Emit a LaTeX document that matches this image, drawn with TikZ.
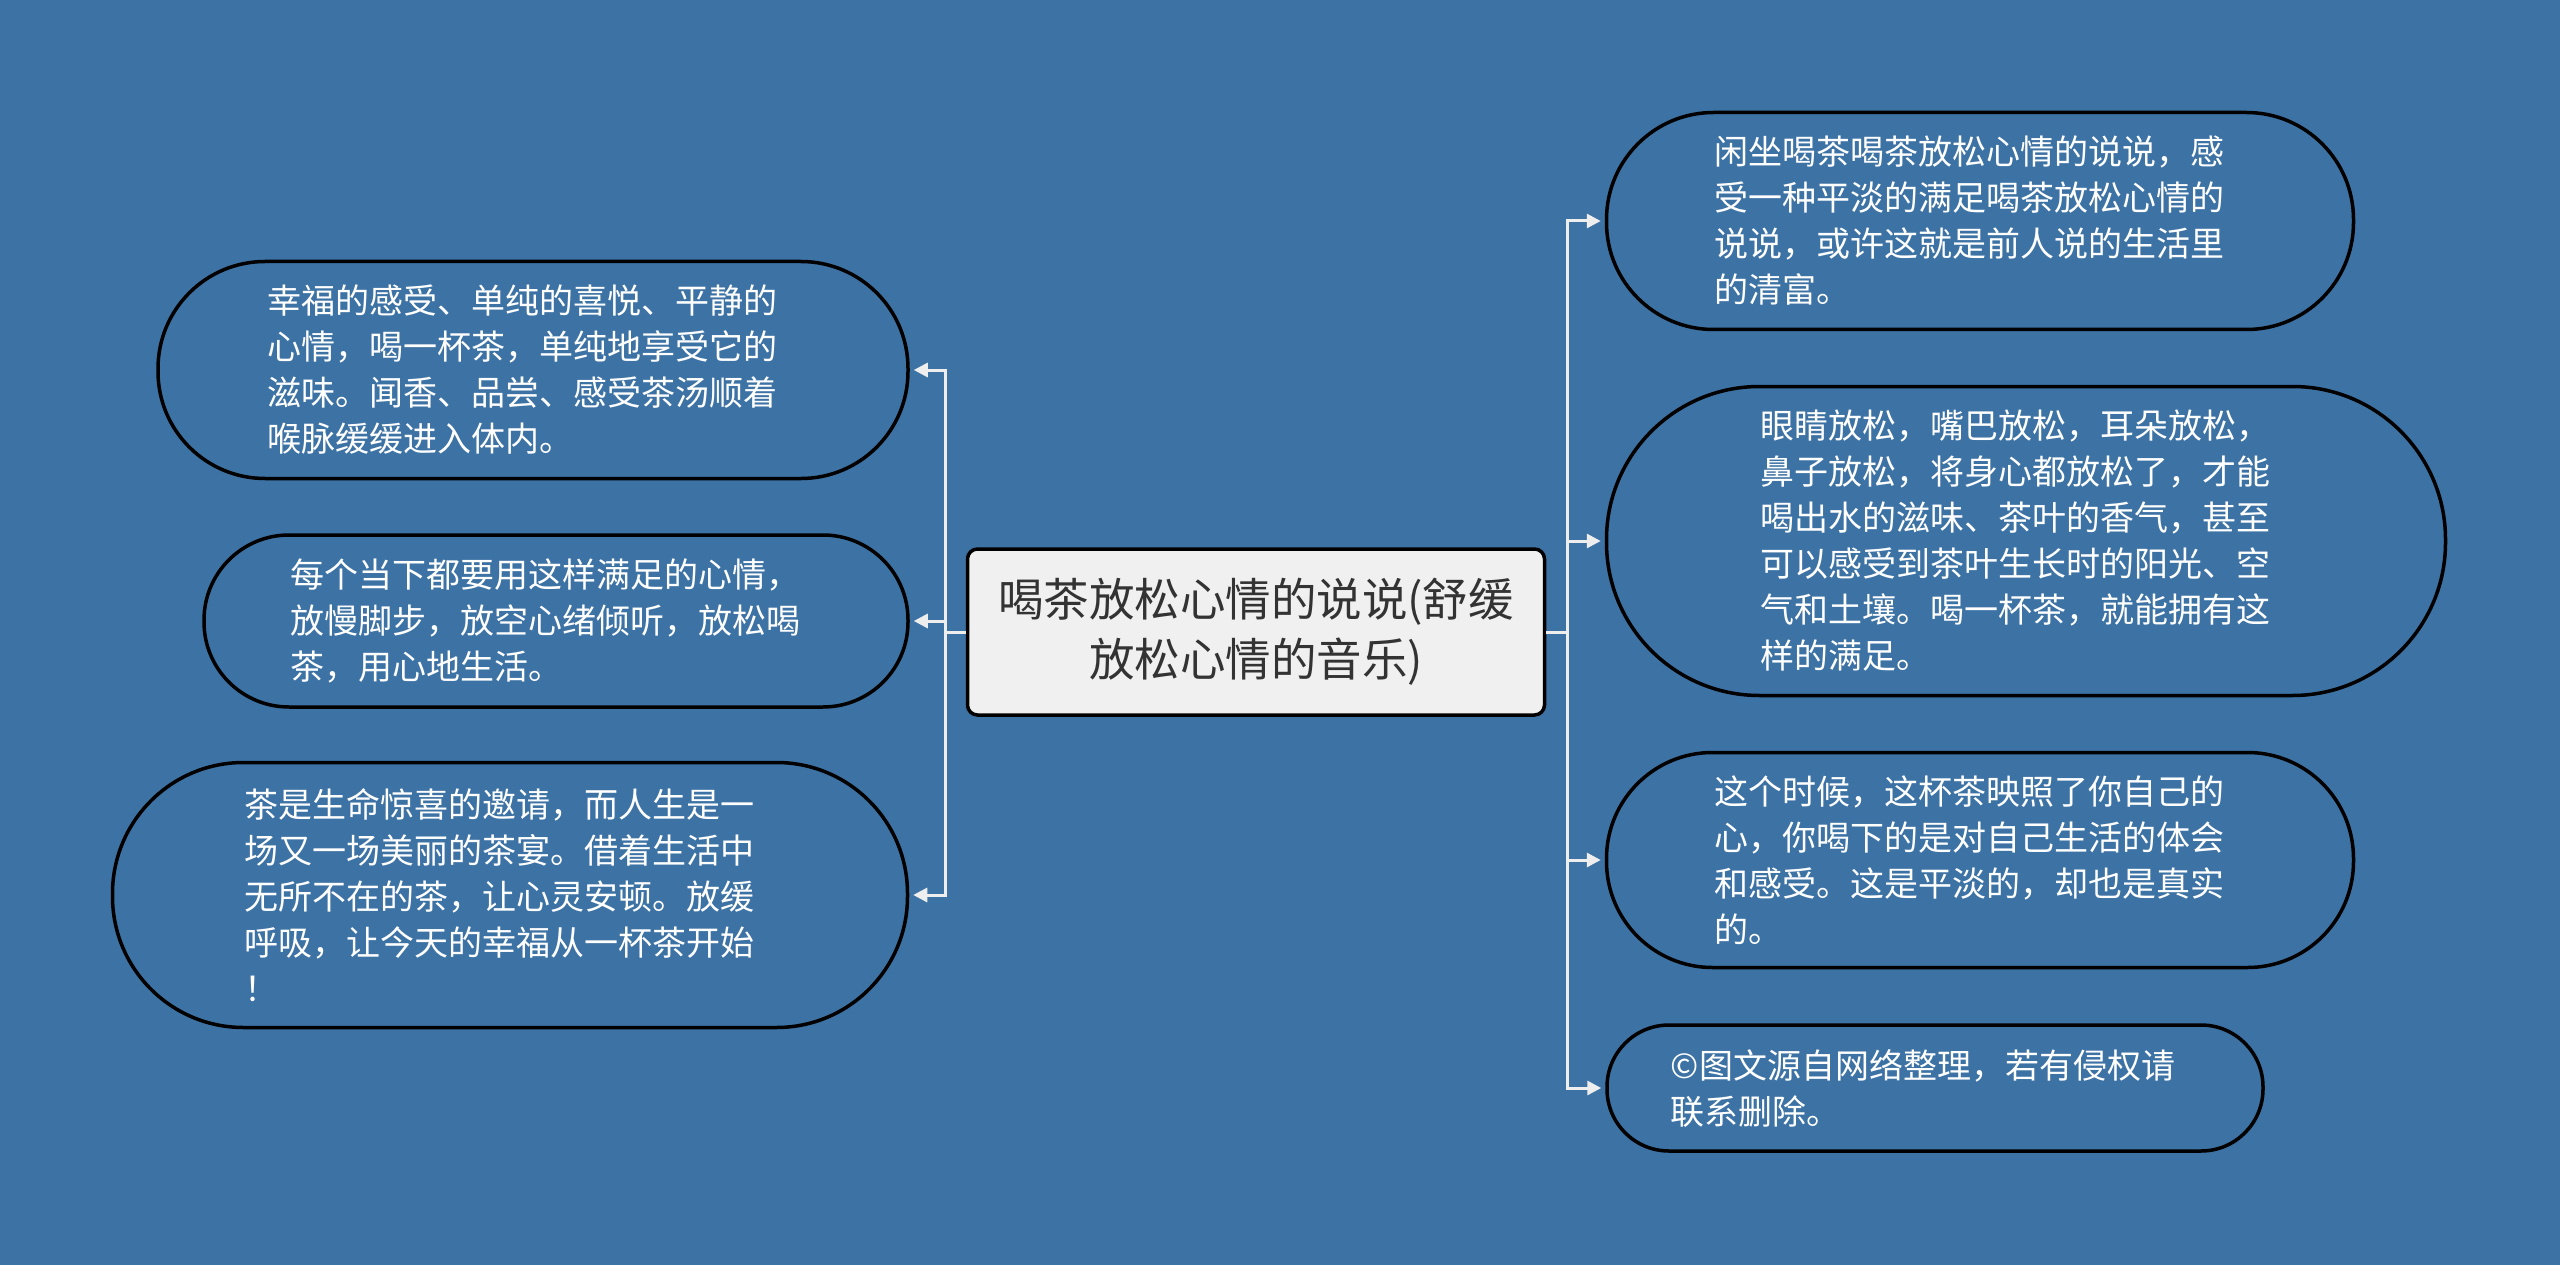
\documentclass[tikz,border=0pt]{standalone}
\usepackage{fontspec}
\setmainfont{Noto Sans CJK SC}
\usetikzlibrary{arrows.meta}
\definecolor{bg}{RGB}{61,114,164}
\definecolor{linkc}{RGB}{238,238,238}
\definecolor{ctext}{RGB}{51,51,51}
\definecolor{cfill}{RGB}{240,240,240}
\tikzset{
  pill/.style={draw=black, line width=3.5pt, fill=bg, inner sep=0pt},
  ptext/.style={text=white, align=left, font=\fontsize{34}{46}\selectfont, inner sep=0pt},
  hub/.style={draw=black, line width=3.5pt, fill=cfill, text=ctext, align=center,
    font=\fontsize{45.5}{60}\selectfont, rounded corners=10pt, inner sep=0pt,
    minimum width=577pt, minimum height=166pt},
  link/.style={draw=linkc, line width=3pt},
  arr/.style={link, -{Triangle[length=14pt,width=14pt]}, shorten >=4pt},
}
\begin{document}
\begin{tikzpicture}[x=1pt,y=-1pt]
\fill[bg] (0,0) rectangle (2560,1265);
\useasboundingbox (0,0) rectangle (2560,1265);

\node[hub] (c) at (1256,632) {喝茶放松心情的说说(舒缓\\放松心情的音乐)};

\node[pill, minimum width=750pt, minimum height=217pt, rounded corners=107pt] (l1) at (533,370) {};
\node[ptext] (l1t) at ([xshift=-11pt]l1.center)
  {幸福的感受、单纯的喜悦、平静的\\心情，喝一杯茶，单纯地享受它的\\滋味。闻香、品尝、感受茶汤顺着\\喉脉缓缓进入体内。};
\node[pill, minimum width=704pt, minimum height=172pt, rounded corners=85pt] (l2) at (556,621) {};
\node[ptext] (l2t) at ([xshift=-11pt]l2.center)
  {每个当下都要用这样满足的心情，\\放慢脚步，放空心绪倾听，放松喝\\茶，用心地生活。};
\node[pill, minimum width=795pt, minimum height=265pt, rounded corners=131pt] (l3) at (510,895) {};
\node[ptext] (l3t) at ([xshift=-11pt]l3.center)
  {茶是生命惊喜的邀请，而人生是一\\场又一场美丽的茶宴。借着生活中\\无所不在的茶，让心灵安顿。放缓\\呼吸，让今天的幸福从一杯茶开始\\！};

\node[pill, minimum width=747pt, minimum height=217pt, rounded corners=107pt] (r1) at (1980,221) {};
\node[ptext] (r1t) at ([xshift=-11pt]r1.center)
  {闲坐喝茶喝茶放松心情的说说，感\\受一种平淡的满足喝茶放松心情的\\说说，或许这就是前人说的生活里\\的清富。};
\node[pill, minimum width=839pt, minimum height=309pt, rounded corners=153pt] (r2) at (2026,541) {};
\node[ptext] (r2t) at ([xshift=-11pt]r2.center)
  {眼睛放松，嘴巴放松，耳朵放松，\\鼻子放松，将身心都放松了，才能\\喝出水的滋味、茶叶的香气，甚至\\可以感受到茶叶生长时的阳光、空\\气和土壤。喝一杯茶，就能拥有这\\样的满足。};
\node[pill, minimum width=747pt, minimum height=215pt, rounded corners=106pt] (r3) at (1980,860) {};
\node[ptext] (r3t) at ([xshift=-11pt]r3.center)
  {这个时候，这杯茶映照了你自己的\\心，你喝下的是对自己生活的体会\\和感受。这是平淡的，却也是真实\\的。};
\node[pill, minimum width=656pt, minimum height=126pt, rounded corners=62pt] (r4) at (1935,1088) {};
\node[ptext] (r4t) at ([xshift=-12pt]r4.center)
  {©图文源自网络整理，若有侵权请\\联系删除。};

\coordinate (lj) at (945,632);
\coordinate (rj) at (1567,632);
\draw[link] (c.west) -- (lj);
\draw[link] (c.east) -- (rj);
\draw[arr] (lj) |- (l1.east);
\draw[arr] (lj) |- (l2.east);
\draw[arr] (lj) |- (l3.east);
\draw[arr] (rj) |- (r1.west);
\draw[arr] (rj) |- (r2.west);
\draw[arr] (rj) |- (r3.west);
\draw[arr] (rj) |- (r4.west);
\end{tikzpicture}
\end{document}
